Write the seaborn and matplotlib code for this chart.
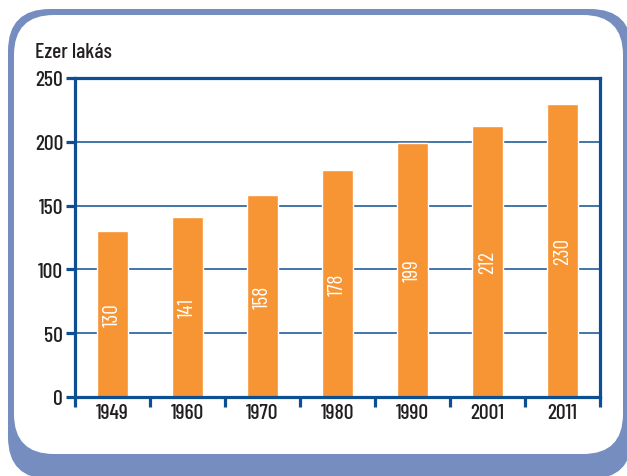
import matplotlib
matplotlib.use("Agg")
import matplotlib.pyplot as plt
import seaborn as sns
import pandas as pd
from matplotlib.patches import FancyBboxPatch
from matplotlib import font_manager as fm

years = ["1949", "1960", "1970", "1980", "1990", "2001", "2011"]
values = [130, 141, 158, 178, 199, 212, 230]
y_ticks = [0, 50, 100, 150, 200, 250]
y_label = "Ezer lakás"

sns.set_theme(style="white")
names = {f.name for f in fm.fontManager.ttflist}
fam = next((n for n in ["Barlow Condensed", "Fira Sans Condensed",
                        "Encode Sans Condensed"] if n in names), "DejaVu Sans")
plt.rcParams["font.family"] = [fam, "DejaVu Sans"]
plt.rcParams["font.weight"] = "medium"

W, H = 627, 477
fig = plt.figure(figsize=(W / 100, H / 100), dpi=100)
fig.patch.set_facecolor("white")

frame_blue = "#768DBF"
spine_c = "#0E4F93"
bar_c = "#F79433"
text_c = "#231F20"

def px_box(x0, y0, x1, y1, color, r):
    p = FancyBboxPatch((x0 / W, 1 - y1 / H), (x1 - x0) / W, (y1 - y0) / H,
                       boxstyle=f"round,pad=0,rounding_size={r / W}",
                       transform=fig.transFigure, facecolor=color,
                       edgecolor="none", mutation_aspect=W / H, zorder=-5)
    fig.patches.append(p)

px_box(8, 10, 632, 480, frame_blue, 42)
px_box(14, 16, 623, 455, "white", 40)

ax = fig.add_axes([75 / W, 1 - 398 / H, 525 / W, 319 / H])
ax.set_facecolor("none")
df = pd.DataFrame({"year": years, "value": values})
sns.barplot(data=df, x="year", y="value", color=bar_c, saturation=1,
            width=0.41, ax=ax, zorder=3)

ax.set_xlim(-0.5, len(years) - 0.5)
ax.set_ylim(0, 250)
ax.set_yticks(y_ticks)
ax.set_xlabel("")
ax.set_ylabel("")

for sp in ax.spines.values():
    sp.set_visible(True)
    sp.set_color(spine_c)
    sp.set_linewidth(2.3)
    sp.set_zorder(5)

for yv in y_ticks[1:-1]:
    ax.axhline(yv, color=spine_c, lw=1.1, zorder=1)

ax.tick_params(axis="y", which="major", direction="out", length=6.5,
               width=2.3, color=spine_c, labelsize=15.5, pad=2,
               labelcolor=text_c, left=True)
ax.set_xticks(range(len(years)))
ax.set_xticklabels(years)
ax.set_xticks([i - 0.5 for i in range(len(years) + 1)], minor=True)
ax.tick_params(axis="x", which="major", length=0, labelsize=15.5, pad=4,
               labelcolor=text_c)
ax.tick_params(axis="x", which="minor", direction="out", length=7.5,
               width=2.3, color=spine_c, bottom=True)

for i, v in enumerate(values):
    ax.text(i, v / 2, str(v), rotation=90, ha="center", va="center",
            color="white", fontsize=15.5, fontweight="normal", zorder=6)

fig.text(35 / W, 1 - 53 / H, y_label, ha="left", va="center",
         fontsize=15.5, color=text_c)

fig.savefig("out.png", dpi=100)
